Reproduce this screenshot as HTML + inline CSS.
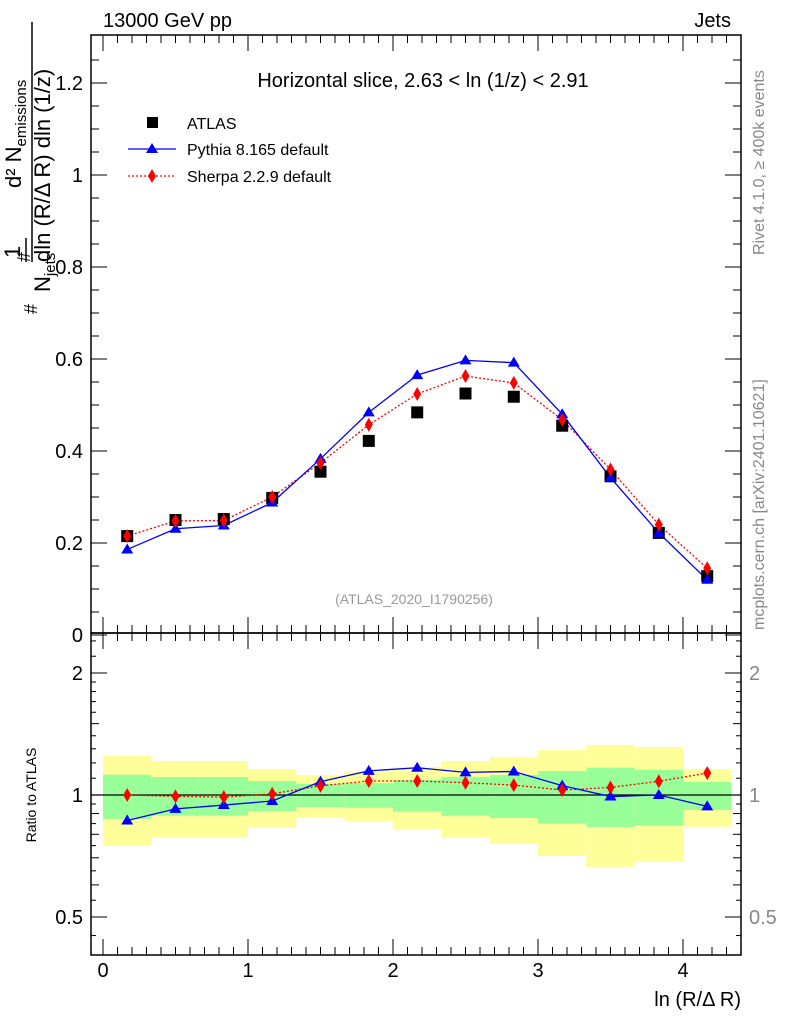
<!DOCTYPE html>
<html><head><meta charset="utf-8"><style>
body{margin:0;background:#fff;}
svg{display:block;font-family:"Liberation Sans",sans-serif;}
</style></head><body>
<svg id="chart" width="786" height="1024" viewBox="0 0 786 1024" xmlns="http://www.w3.org/2000/svg">
<g id="bands"></g>
<g id="marks"></g>
<g id="axes"></g>
<text x="103" y="27" font-size="20">13000 GeV pp</text>
<text x="731" y="27" font-size="20" text-anchor="end">Jets</text>
<text x="423" y="87" font-size="20" text-anchor="middle">Horizontal slice, 2.63 &lt; ln (1/z) &lt; 2.91</text>
<text x="414" y="604" font-size="14" fill="#999" text-anchor="middle">(ATLAS_2020_I1790256)</text>
<text transform="translate(764,255) rotate(-90)" font-size="16" fill="#888">Rivet 4.1.0, ≥ 400k events</text>
<text transform="translate(764,630) rotate(-90)" font-size="16" fill="#888">mcplots.cern.ch [arXiv:2401.10621]</text>
<g>
<rect x="147" y="117" width="11" height="11" fill="#000"/>
<text x="187" y="129" font-size="16">ATLAS</text>
<line x1="128" y1="149" x2="176" y2="149" stroke="#00f" stroke-width="1.3"/>
<polygon points="152,143 158,153 146,153" fill="#00f"/>
<text x="187" y="155" font-size="16">Pythia 8.165 default</text>
<line x1="128" y1="176" x2="176" y2="176" stroke="#f00" stroke-width="1.3" stroke-dasharray="2,2"/>
<polygon points="152,169 156,176 152,183 148,176" fill="#f00"/>
<text x="187" y="182" font-size="16">Sherpa 2.2.9 default</text>
</g>
<g font-size="22">
<text transform="translate(21,188) rotate(-90)">d² N<tspan font-size="15" dy="5">emissions</tspan></text>
<line x1="32" y1="262" x2="32" y2="22" stroke="#000" stroke-width="1.5"/>
<text transform="translate(50,262) rotate(-90)">dln (R/Δ R) dln (1/z)</text>
<text transform="translate(20,258) rotate(-90)">1</text>
<line x1="26" y1="262" x2="26" y2="238" stroke="#000" stroke-width="1.5"/>
<text transform="translate(50,292) rotate(-90)">N<tspan font-size="15" dy="5">jets</tspan></text>
<text transform="translate(37,314) rotate(-90)" font-size="18">#</text>
<text transform="translate(30,262) rotate(-90)" font-size="18">#</text>
</g>
<text transform="translate(36,795) rotate(-90)" font-size="14" text-anchor="middle">Ratio to ATLAS</text>
<text x="741" y="1006" font-size="20" text-anchor="end">ln (R/Δ R)</text>
</svg>
<script>
const xCenters=[0.167,0.5,0.833,1.167,1.5,1.833,2.167,2.5,2.833,3.167,3.5,3.833,4.167];
const binEdges=[0,0.333,0.667,1,1.333,1.667,2,2.333,2.667,3,3.333,3.667,4,4.333];
const atlas=[0.215,0.25,0.252,0.298,0.355,0.422,0.484,0.525,0.518,0.455,0.345,0.222,0.128];
const pythia=[0.186,0.231,0.238,0.288,0.383,0.484,0.565,0.597,0.592,0.48,0.342,0.222,0.12];
const sherpa=[0.215,0.248,0.249,0.3,0.374,0.457,0.524,0.563,0.548,0.468,0.36,0.24,0.145];
const yellowHi=[1.25,1.213,1.213,1.159,1.12,1.14,1.174,1.213,1.241,1.291,1.329,1.314,1.159];
const yellowLo=[0.75,0.785,0.785,0.834,0.877,0.859,0.824,0.785,0.758,0.707,0.665,0.684,0.835];
const greenHi=[1.122,1.108,1.108,1.083,1.064,1.07,1.089,1.108,1.12,1.146,1.168,1.154,1.078];
const greenLo=[0.873,0.889,0.889,0.913,0.934,0.93,0.91,0.889,0.877,0.85,0.834,0.84,0.918];
const mainTicks=["0","0.2","0.4","0.6","0.8","1","1.2"];
const xTicks=["0","1","2","3","4"];
const ratioTicks=["0.5","1","2"];

const NS="http://www.w3.org/2000/svg";
const X0=91,X1=741,MT=35,MB=633,RB=955;
const sx=v=>103+145*v;
const sy=v=>635-460*v;
const ry=r=>795-122*Math.log2(r);
function mk(tag,attrs,parent){const e=document.createElementNS(NS,tag);for(const k in attrs)e.setAttribute(k,attrs[k]);parent.appendChild(e);return e;}
const bands=document.getElementById('bands'),marks=document.getElementById('marks'),axes=document.getElementById('axes');

for(let i=0;i<xCenters.length;i++){
  const x=sx(binEdges[i]),w=sx(binEdges[i+1])-x;
  const y1=mk('rect',{x:x,y:ry(yellowHi[i]),width:w,height:ry(yellowLo[i])-ry(yellowHi[i]),fill:'#ffff99'},bands);
  
  
  const g1=mk('rect',{x:x,y:ry(greenHi[i]),width:w,height:ry(greenLo[i])-ry(greenHi[i]),fill:'#99ff99'},bands);
  
  
}
mk('line',{x1:X0,y1:795,x2:X1,y2:795,stroke:'#000','stroke-width':1.3},bands);

function poly(vals,yf,color,dash,name){
  const p=mk('polyline',{points:vals.map((v,i)=>sx(xCenters[i])+','+yf(v,i)).join(' '),fill:'none',stroke:color,'stroke-width':1.3,'stroke-dasharray':dash},marks);
  
  
}
function tri(x,y,name){const t=mk('polygon',{points:`${x},${y-6} ${x+6},${y+4} ${x-6},${y+4}`,fill:'#00f'},marks);
  
  }
function dia(x,y,name){const t=mk('polygon',{points:`${x},${y-7} ${x+4},${y} ${x},${y+7} ${x-4},${y}`,fill:'#f00'},marks);
  
  }

poly(sherpa,v=>sy(v),'#f00','2,2','sherpa-line');
poly(pythia,v=>sy(v),'#00f','none','pythia-line');
poly(sherpa,(v,i)=>ry(v/atlas[i]),'#f00','2,2','sherpa-ratio-line');
poly(pythia,(v,i)=>ry(v/atlas[i]),'#00f','none','pythia-ratio-line');
for(let i=0;i<xCenters.length;i++){
  const x=sx(xCenters[i]);
  const r=mk('rect',{x:x-6,y:sy(atlas[i])-6,width:12,height:12,fill:'#000'},marks);
  
  
  tri(x,sy(pythia[i]),'pythia-point');
  dia(x,sy(sherpa[i]),'sherpa-point');
  tri(x,ry(pythia[i]/atlas[i]),'pythia-ratio-point');
  dia(x,ry(sherpa[i]/atlas[i]),'sherpa-ratio-point');
}

mk('rect',{x:X0,y:MT,width:X1-X0,height:MB-MT,fill:'none',stroke:'#000','stroke-width':1.5},axes);
mk('rect',{x:X0,y:MB,width:X1-X0,height:RB-MB,fill:'none',stroke:'#000','stroke-width':1.5},axes);
for(let v=0;v<=1.3;v+=0.05){
  const y=sy(v);if(y<MT-0.5)continue;
  const major=Math.abs(v/0.2-Math.round(v/0.2))<1e-6;const L=major?16:8;
  mk('line',{x1:X0,y1:y,x2:X0+L,y2:y,stroke:'#000'},axes);
  mk('line',{x1:X1,y1:y,x2:X1-L,y2:y,stroke:'#000'},axes);
}
mainTicks.forEach(t=>{const e=mk('text',{x:83,y:sy(+t)+7,'font-size':20,'text-anchor':'end'},axes);e.textContent=t;
  
  });
for(let k=0;k<=44;k++){const v=k/10;const x=sx(v);const major=k%10==0;const L=major?16:8;
  [[MT,1],[MB,-1],[MB,1],[RB,-1]].forEach(([y,d])=>mk('line',{x1:x,y1:y,x2:x,y2:y+d*L,stroke:'#000'},axes));}
xTicks.forEach(t=>{const e=mk('text',{x:sx(+t),y:977,'font-size':20,'text-anchor':'middle'},axes);e.textContent=t;
  
  });
[0.5,0.6,0.7,0.8,0.9,1,1.5,2].forEach(v=>{const y=ry(v);const major=[0.5,1,2].includes(v);const L=major?16:8;
  mk('line',{x1:X0,y1:y,x2:X0+L,y2:y,stroke:'#000'},axes);mk('line',{x1:X1,y1:y,x2:X1-L,y2:y,stroke:'#000'},axes);});
[0.45,0.55,0.65,0.75,0.85,0.95,1.1,1.2,1.3,1.4,1.6,1.7,1.8,1.9,2.2,2.4].forEach(v=>{const y=ry(v);
  mk('line',{x1:X0,y1:y,x2:X0+5,y2:y,stroke:'#000'},axes);mk('line',{x1:X1,y1:y,x2:X1-5,y2:y,stroke:'#000'},axes);});
ratioTicks.forEach(t=>{const y=ry(+t)+7;
  const e=mk('text',{x:83,y:y,'font-size':20,'text-anchor':'end'},axes);e.textContent=t;
  
  
  const e2=mk('text',{x:749,y:y,'font-size':20,fill:'#888'},axes);e2.textContent=t;
  
  });
</script>
</body></html>
